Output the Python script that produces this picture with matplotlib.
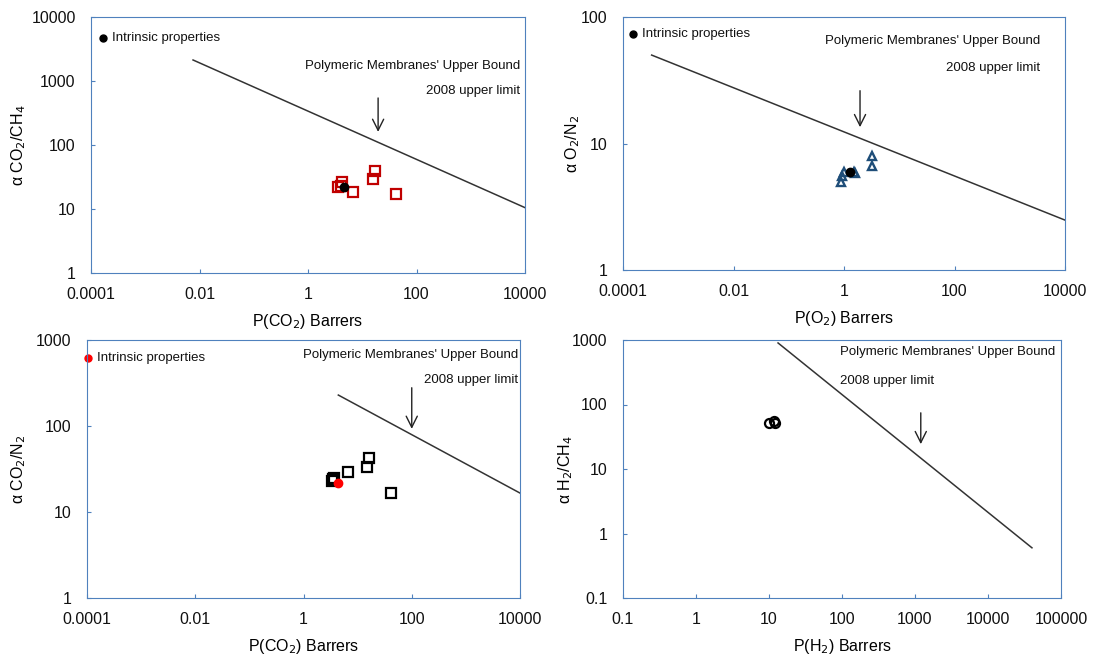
import matplotlib.pyplot as plt
import numpy as np

plt.rcParams['font.family'] = ['Liberation Sans', 'DejaVu Sans']

# --- CO2/CH4 panel ---
co2ch4_p = [3.5, 4.0, 4.3, 6.7, 16, 17, 42]
co2ch4_a = [22, 23, 26, 18.5, 29.5, 39, 17]
co2ch4_intr = (4.6, 22)
co2ch4_bound_x = [0.0076, 10000]
co2ch4_bound_y = [2130, 10.5]

# --- O2/N2 panel ---
o2n2_p = [0.89, 0.93, 0.98, 1.5, 1.58, 3.2, 3.2]
o2n2_a = [5.0, 5.5, 5.95, 6.0, 5.85, 6.7, 7.9]
o2n2_intr = (1.29, 5.95)
o2n2_bound_x = [0.00033, 10000]
o2n2_bound_y = [50, 2.48]

# --- CO2/N2 panel ---
co2n2_p = [3.4, 3.5, 3.6, 6.7, 15, 16.4, 41.6]
co2n2_a = [22.9, 24.0, 24.8, 29, 33, 42.5, 16.6]
co2n2_intr = (4.4, 21.8)
co2n2_bound_x = [4.4, 10000]
co2n2_bound_y = [229, 16.6]

# --- H2/CH4 panel ---
h2ch4_p = [10, 11.7, 11.9]
h2ch4_a = [51, 55, 51]
h2ch4_bound_x = [13.3, 40000]
h2ch4_bound_y = [900, 0.60]

frame_col = '#4f81bd'

fig = plt.figure(figsize=(10.94, 6.55), dpi=100)
W, H = 1094, 655


def make_ax(x0, y0, x1, y1):
    return fig.add_axes([x0 / W, 1 - y1 / H, (x1 - x0) / W, (y1 - y0) / H])


def fmt(t):
    if t >= 1:
        return '%g' % t
    return '%.*f' % (int(round(-np.log10(t))), t)


def style(ax, xlim, ylim, xticks, yticks, xlabel, ylabel, ylx):
    ax.set_xscale('log')
    ax.set_yscale('log')
    ax.set_xlim(xlim)
    ax.set_ylim(ylim)
    ax.set_xticks(xticks)
    ax.set_xticklabels([fmt(t) for t in xticks])
    ax.set_yticks(yticks)
    ax.set_yticklabels([fmt(t) for t in yticks])
    ax.minorticks_off()
    for s in ax.spines.values():
        s.set_color(frame_col)
    ax.tick_params(direction='in', length=3, color=frame_col, labelsize=11.5,
                   labelcolor='#111111')
    ax.tick_params(axis='x', pad=10)
    ax.tick_params(axis='y', pad=11)
    ax.set_xlabel(xlabel, fontsize=11.5, labelpad=7)
    ax.set_ylabel(ylabel, fontsize=11.5)
    ax.yaxis.set_label_coords(ylx, 0.5)


def bound_text(ax, x1, y1, x2, y2, ha2='right'):
    ax.text(x1, y1, "Polymeric Membranes' Upper Bound", transform=ax.transAxes,
            ha='right', va='center', fontsize=9.5, color='#111111')
    ax.text(x2, y2, "2008 upper limit", transform=ax.transAxes,
            ha=ha2, va='center', fontsize=9.5, color='#111111')


def legend_dot(ax, x, y, color):
    ax.plot([x], [y], 'o', color=color, ms=5, transform=ax.transAxes, clip_on=False)
    ax.text(x + 0.02, y, "Intrinsic properties", transform=ax.transAxes,
            ha='left', va='center', fontsize=9.5, color='#111111')


def arrow(ax, x, y_from, y_to):
    ax.annotate('', xy=(x, y_to), xytext=(x, y_from),
                arrowprops=dict(arrowstyle='->', color='#222222', lw=1,
                                mutation_scale=20))


# Panel 1
ax1 = make_ax(91, 17, 525, 273)
ax1.plot(co2ch4_bound_x, co2ch4_bound_y, color='#333333', lw=1.1)
ax1.plot(co2ch4_p, co2ch4_a, 's', mfc='none', mec='#c00000', mew=1.6, ms=6.5)
ax1.plot([co2ch4_intr[0]], [co2ch4_intr[1]], 'o', color='black', ms=6)
arrow(ax1, 19.6, 600, 145)
style(ax1, (1e-4, 1e4), (1, 1e4), [1e-4, 1e-2, 1, 100, 1e4], [1, 10, 100, 1000, 10000],
      'P(CO$_2$) Barrers', 'α CO$_2$/CH$_4$', -0.145)
bound_text(ax1, 0.988, 0.81, 0.988, 0.71)
legend_dot(ax1, 0.028, 0.918, 'black')

# Panel 2
ax2 = make_ax(623, 17, 1065, 270)
ax2.plot(o2n2_bound_x, o2n2_bound_y, color='#333333', lw=1.1)
ax2.plot(o2n2_p, o2n2_a, '^', mfc='none', mec='#1f4e79', mew=1.7, ms=6)
ax2.plot([o2n2_intr[0]], [o2n2_intr[1]], 'o', color='black', ms=6)
arrow(ax2, 1.95, 27.5, 12.8)
style(ax2, (1e-4, 1e4), (1, 100), [1e-4, 1e-2, 1, 100, 1e4], [1, 10, 100],
      'P(O$_2$) Barrers', 'α O$_2$/N$_2$', -0.093)
bound_text(ax2, 0.943, 0.905, 0.943, 0.80)
legend_dot(ax2, 0.023, 0.933, 'black')

# Panel 3
ax3 = make_ax(87, 340, 520, 598)
ax3.plot(co2n2_bound_x, co2n2_bound_y, color='#333333', lw=1.1)
ax3.plot(co2n2_p, co2n2_a, 's', mfc='none', mec='black', mew=1.6, ms=6.5)
ax3.plot([co2n2_intr[0]], [co2n2_intr[1]], 'o', color='red', ms=6)
arrow(ax3, 100, 300, 86)
style(ax3, (1e-4, 1e4), (1, 1000), [1e-4, 1e-2, 1, 100, 1e4], [1, 10, 100, 1000],
      'P(CO$_2$) Barrers', 'α CO$_2$/N$_2$', -0.136)
bound_text(ax3, 0.995, 0.94, 0.995, 0.845)
legend_dot(ax3, 0.003, 0.93, 'red')

# Panel 4
ax4 = make_ax(623, 340, 1061, 598)
ax4.plot(h2ch4_bound_x, h2ch4_bound_y, color='#333333', lw=1.1)
ax4.plot(h2ch4_p, h2ch4_a, 'o', mfc='none', mec='black', mew=1.6, ms=6.5)
arrow(ax4, 1200, 82, 22)
style(ax4, (0.1, 1e5), (0.1, 1000), [0.1, 1, 10, 100, 1000, 1e4, 1e5],
      [0.1, 1, 10, 100, 1000], 'P(H$_2$) Barrers', 'α H$_2$/CH$_4$', -0.110)
bound_text(ax4, 0.986, 0.953, 0.495, 0.84, ha2='left')

fig.savefig('out.png', dpi=100)
